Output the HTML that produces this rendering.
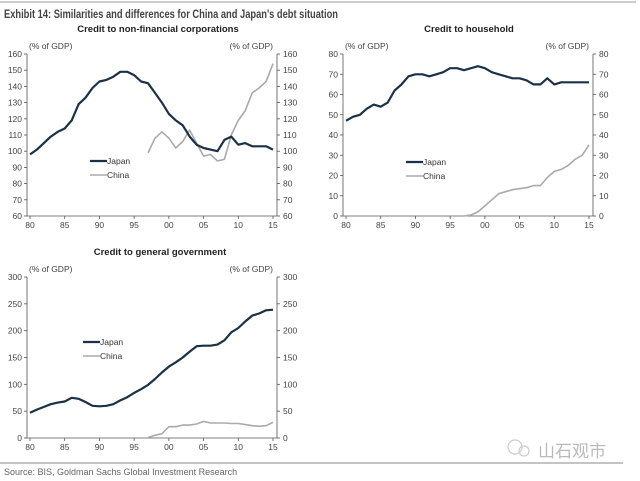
<!DOCTYPE html>
<html><head><meta charset="utf-8">
<style>
html,body{margin:0;padding:0;background:#fff;width:640px;height:481px;overflow:hidden}
svg{display:block;font-family:"Liberation Sans",Arial,sans-serif}
</style></head>
<body>
<svg id="root" width="640" height="481" viewBox="0 0 640 481">
<line x1="0" y1="2" x2="636" y2="2" stroke="#999" stroke-width="1"/>
<text x="4" y="18" font-size="11.5" font-weight="bold" fill="#444" textLength="334" lengthAdjust="spacingAndGlyphs">Exhibit 14: Similarities and differences for China and Japan's debt situation</text>
<line x1="0" y1="463" x2="623" y2="463" stroke="#888" stroke-width="1"/>
<text x="4" y="475" font-size="9" fill="#666">Source: BIS, Goldman Sachs Global Investment Research</text>
<g>
<circle cx="515" cy="447" r="7" fill="none" stroke="#ccc" stroke-width="1.2"/>
<circle cx="524" cy="451" r="5" fill="none" stroke="#ccc" stroke-width="1.2"/>
<text x="538" y="457" font-size="17" fill="#bbb" font-family="'Noto Sans CJK SC',sans-serif">山石观市</text>
</g>
<g id="charts"></g>
</svg>
<script>
// Chart 1: Credit to non-financial corporations
const corpJapanYears = [1980,1981,1982,1983,1984,1985,1986,1987,1988,1989,1990,1991,1992,1993,1994,1995,1996,1997,1998,1999,2000,2001,2002,2003,2004,2005,2006,2007,2008,2009,2010,2011,2012,2013,2014,2015];
const corpJapan = [98,101,105,109,112,114,119,129,133,139,143,144,146,149,149,147,143,142,136,130,123,119,116,109,104,102,101,100,107,109,104,105,103,103,103,101];
const corpChinaYears = [1997,1998,1999,2000,2001,2002,2003,2004,2005,2006,2007,2008,2009,2010,2011,2012,2013,2014,2015];
const corpChina = [99,108,112,108,102,106,113,105,97,98,94,95,110,119,125,136,139,143,154];
// Chart 2: Credit to household
const hhJapanYears = corpJapanYears;
const hhJapan = [47,49,50,53,55,54,56,62,65,69,70,70,69,70,71,73,73,72,73,74,73,71,70,69,68,68,67,65,65,68,65,66,66,66,66,66];
const hhChinaYears = corpChinaYears;
const hhChina = [0,0.5,2,5,8,11,12,13,13.5,14,15,15,19,22,23,25,28,30,35];
// Chart 3: Credit to general government
const govJapanYears = corpJapanYears;
const govJapan = [47,53,58,63,66,68,75,73,67,60,59,60,63,70,76,84,91,99,110,122,133,141,150,161,171,172,172,174,182,197,205,217,228,232,238,239];
const govChinaYears = corpChinaYears;
const govChina = [1,5,8,21,21,24,24,26,31,28,28,28,27,27,25,23,22,23,29];
// Ticks
const corpTicks = [60,70,80,90,100,110,120,130,140,150,160];
const hhTicks = [0,10,20,30,40,50,60,70,80];
const govTicks = [0,50,100,150,200,250,300];
const xTickLabels = ["80","85","90","95","00","05","10","15"];
const xTickYears = [1980,1985,1990,1995,2000,2005,2010,2015];

const NS="http://www.w3.org/2000/svg";
const root=document.getElementById('charts');
function mk(tag,attrs,parent){const e=document.createElementNS(NS,tag);for(const k in attrs)e.setAttribute(k,attrs[k]);(parent||root).appendChild(e);return e;}

function chart(cfg){
  const g=mk('g',{});
  
  
  const {L,R,T,B,ticks}=cfg;
  const ymin=ticks[0],ymax=ticks[ticks.length-1];
  const xs=y=>L+3+(y-1980)*(R-L-7)/35;
  const ys=v=>B-(v-ymin)*(B-T)/(ymax-ymin);
  const t=mk('text',{x:cfg.tx,y:T-22,'font-size':9.5,'font-weight':'bold','text-anchor':'middle',fill:'#222'},g);
  t.textContent=cfg.title;
  
  
  const ul=mk('text',{x:L+2,y:T-5,'font-size':8.5,fill:'#444'},g);ul.textContent='(% of GDP)';
  
  
  const ur=mk('text',{x:R-4,y:T-5,'font-size':8.5,fill:'#444','text-anchor':'end'},g);ur.textContent='(% of GDP)';
  
  
  const frame=mk('path',{d:`M${L},${T}V${B}H${R}V${T}`,fill:'none',stroke:'#555','stroke-width':0.8},g);
  
  
  ticks.forEach(v=>{
    const y=ys(v);
    mk('line',{x1:L-3,x2:L,y1:y,y2:y,stroke:'#555','stroke-width':0.8},g);
    mk('line',{x1:R,x2:R+3,y1:y,y2:y,stroke:'#555','stroke-width':0.8},g);
    const a=mk('text',{x:L-5,y:y+3,'font-size':8.5,fill:'#444','text-anchor':'end'},g);a.textContent=v;
    
    
    const b=mk('text',{x:R+6,y:y+3,'font-size':8.5,fill:'#444'},g);b.textContent=v;
    
    
  });
  xTickYears.forEach((yr,i)=>{
    const x=xs(yr);
    mk('line',{x1:x,x2:x,y1:B,y2:B+3,stroke:'#555','stroke-width':0.8},g);
    const a=mk('text',{x:x,y:B+12,'font-size':8.5,fill:'#444','text-anchor':'middle'},g);a.textContent=xTickLabels[i];
    
    
  });
  function line(yrs,vals,color,w,name){
    const d=yrs.map((y,i)=>(i?'L':'M')+xs(y).toFixed(1)+','+ys(vals[i]).toFixed(1)).join('');
    const p=mk('path',{d,fill:'none',stroke:color,'stroke-width':w,'stroke-linejoin':'round'},g);
    
    
  }
  line(cfg.cy,cfg.cv,'#aaaaaa',1.6,'china-line');
  line(cfg.jy,cfg.jv,'#1b3147',2.2,'japan-line');
  const lg=mk('g',{},g);
  
  
  mk('line',{x1:cfg.lx,x2:cfg.lx+17,y1:cfg.ly,y2:cfg.ly,stroke:'#1b3147','stroke-width':2.2},lg);
  const j=mk('text',{x:cfg.lx+17,y:cfg.ly+3,'font-size':8.5,fill:'#333'},lg);j.textContent='Japan';
  
  
  mk('line',{x1:cfg.lx,x2:cfg.lx+17,y1:cfg.ly+14,y2:cfg.ly+14,stroke:'#aaa','stroke-width':1.6},lg);
  const c=mk('text',{x:cfg.lx+17,y:cfg.ly+17,'font-size':8.5,fill:'#333'},lg);c.textContent='China';
  
  
}
chart({name:'corporate-credit-chart',title:'Credit to non-financial corporations',tx:158,L:27,R:277,T:54,B:216,ticks:corpTicks,jy:corpJapanYears,jv:corpJapan,cy:corpChinaYears,cv:corpChina,lx:90,ly:161});
chart({name:'household-credit-chart',title:'Credit to household',tx:469,L:343,R:593,T:54,B:216,ticks:hhTicks,jy:hhJapanYears,jv:hhJapan,cy:hhChinaYears,cv:hhChina,lx:406,ly:162});
chart({name:'government-credit-chart',title:'Credit to general government',tx:160,L:27,R:277,T:277,B:438,ticks:govTicks,jy:govJapanYears,jv:govJapan,cy:govChinaYears,cv:govChina,lx:83,ly:342});
</script>
</body></html>
